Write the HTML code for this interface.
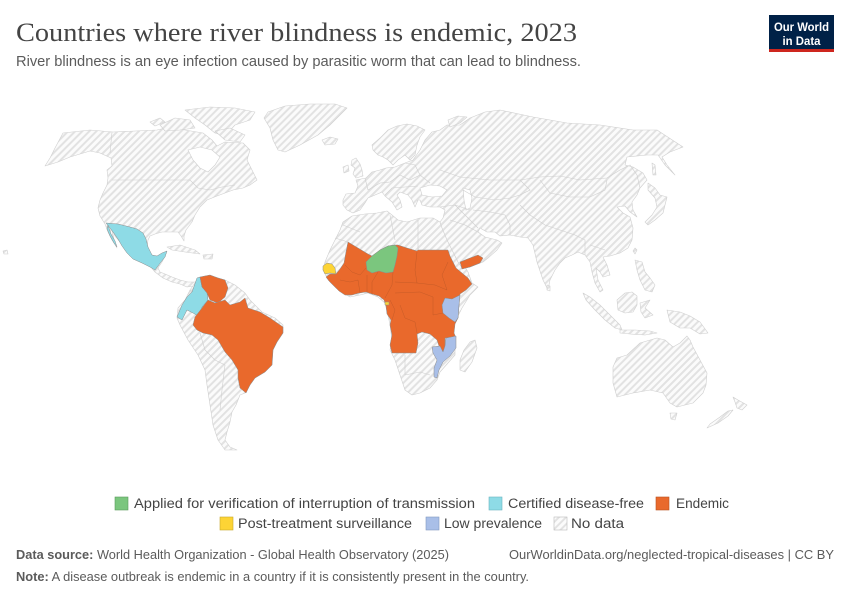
<!DOCTYPE html>
<html><head><meta charset="utf-8"><style>
html,body{margin:0;padding:0;background:#fff;}
svg{display:block;}
</style></head><body>
<svg width="850" height="600" viewBox="0 0 850 600" xmlns="http://www.w3.org/2000/svg">
<defs>
<pattern id="h" width="5" height="5" patternUnits="userSpaceOnUse" patternTransform="rotate(45)">
<rect width="5" height="5" fill="#fbfbfb"/>
<rect width="2" height="5" fill="#e2e2e2"/>
</pattern>
</defs>
<rect width="850" height="600" fill="#fff"/>

<!-- Title -->
<text x="16" y="41" font-family="Liberation Serif, serif" font-size="26" fill="#444" textLength="561" lengthAdjust="spacingAndGlyphs">Countries where river blindness is endemic, 2023</text>
<text x="16" y="66" font-family="Liberation Sans, sans-serif" font-size="14.5" fill="#5b5b5b" textLength="565" lengthAdjust="spacingAndGlyphs">River blindness is an eye infection caused by parasitic worm that can lead to blindness.</text>

<!-- Logo -->
<rect x="769" y="15" width="65" height="35" fill="#002147"/>
<rect x="769" y="49" width="65" height="3" fill="#ce261e"/>
<text x="801.5" y="31" text-anchor="middle" font-family="Liberation Sans, sans-serif" font-size="12" font-weight="bold" fill="#fff" textLength="55" lengthAdjust="spacingAndGlyphs">Our World</text>
<text x="801.5" y="45" text-anchor="middle" font-family="Liberation Sans, sans-serif" font-size="12" font-weight="bold" fill="#fff" textLength="38" lengthAdjust="spacingAndGlyphs">in Data</text>

<!-- MAP -->
<g fill="url(#h)" stroke="#cfcfcf" stroke-width="0.6" stroke-linejoin="round">
<!-- North America -->
<polygon points="45,166 50,158 55,148 63,133 90,130 113,132 135,131 157,130 170,127 185,130 203,133 212,140 217,146 225,142 243,143 250,150 247,160 253,172 257,180 250,185 243,188 233,190 225,193 217,196 207,200 200,207 195,215 192,222 186,230 184,236 184,241 181,236 178,232 170,232 162,232 155,234 150,236 148,240 147,247 152,256 158,262 162,258 166,252 165,256 162,262 158,268 160,272 165,274 172,277 180,280 188,282 196,282 194,286 187,287 180,284 172,282 163,278 155,272 150,266 140,262 130,256 125,250 120,242 115,236 112,230 115,244 117,248 112,240 108,232 105,224 100,216 98,208 100,200 103,193 107,185 108,178 107,170 112,166 111,158 100,153 90,151 80,154 70,157 58,162"/>
<!-- Arctic islands -->
<polygon points="160,125 175,118 190,120 195,128 180,130 165,131"/>
<polygon points="185,110 210,107 235,108 255,112 250,120 235,125 225,136 215,133 205,125 195,118"/>
<polygon points="215,131 230,128 245,135 240,142 225,140"/>
<polygon points="150,122 160,118 165,122 155,126"/>
<!-- Greenland -->
<polygon points="268,112 285,106 310,104 335,104 347,108 340,115 330,125 318,135 300,145 285,152 278,150 273,140 270,128 264,118"/>
<!-- Iceland -->
<polygon points="322,140 330,137 338,139 335,144 325,145"/>
<!-- Caribbean -->
<polygon points="167,247 180,245 195,250 200,254 185,252 172,250"/>
<polygon points="203,255 213,254 212,259 204,259"/>
<polygon points="3,251 7,250 8,254 4,254"/>
<!-- South America -->
<polygon points="195,283 200,278 205,276 215,277 225,280 235,285 245,293 250,300 262,312 275,318 283,325 283,333 277,342 273,350 272,365 265,372 255,378 250,385 245,393 240,395 236,405 232,412 230,422 227,432 225,440 230,447 237,450 225,450 218,440 213,425 210,405 207,385 205,370 198,355 188,340 180,325 177,318 178,308 185,300 190,290"/>
<!-- Africa -->
<polygon points="343,222 352,216 365,214 377,213 387,211 392,215 398,220 407,222 420,218 433,218 440,222 443,228 450,240 455,250 462,262 468,272 472,283 478,287 470,295 462,308 457,318 452,328 455,340 455,355 448,363 440,372 437,380 430,388 420,393 412,395 405,390 400,375 395,360 390,350 392,340 390,325 388,315 385,303 378,297 368,293 360,295 350,297 343,293 336,288 330,282 327,278 323,270 325,262 330,250 335,240 340,230"/>
<!-- Madagascar -->
<polygon points="470,342 475,340 477,348 472,362 465,372 460,370 460,360 464,350"/>
<!-- Eurasia -->
<polygon points="343,200 346,194 355,193 358,186 356,180 366,178 372,172 380,170 386,168 395,167 405,163 413,160 420,150 425,140 432,132 440,130 447,125 460,125 470,118 485,112 500,110 533,117 567,123 600,125 633,130 657,130 683,147 670,152 662,157 667,165 675,175 665,165 658,155 647,155 627,157 625,165 633,167 643,173 647,180 640,188 637,195 632,202 633,210 637,217 630,212 625,206 617,207 623,213 630,217 633,228 632,240 628,248 620,253 610,256 603,257 607,265 610,275 603,277 600,272 596,268 598,280 603,290 600,292 595,283 592,272 590,262 585,255 578,252 572,255 565,258 560,263 555,270 550,280 548,290 543,280 537,262 533,245 528,238 520,237 510,235 500,236 495,232 487,232 480,228 478,232 485,237 497,240 502,243 497,250 488,258 483,262 470,267 462,268 458,262 453,252 447,240 442,228 440,222 443,218 445,210 440,207 430,207 422,205 420,200 418,200 415,207 412,200 408,195 400,192 397,195 400,200 402,207 397,210 392,202 385,196 382,192 375,195 368,198 365,203 360,210 353,213 347,210 343,205"/>
<!-- Scandinavia -->
<polygon points="373,150 372,145 380,138 388,130 397,126 407,124 417,126 425,130 420,137 417,145 415,155 410,160 405,155 398,160 393,165 388,160 383,157 378,155"/>
<!-- Novaya Zemlya -->
<polygon points="448,120 458,116 467,117 460,123 450,127"/>
<!-- UK / Ireland -->
<polygon points="352,160 356,158 360,164 362,170 363,176 356,178 353,174 355,168 351,165"/>
<polygon points="343,167 348,165 349,171 344,173"/>
<!-- Japan, Sakhalin, Taiwan, Sri Lanka -->
<polygon points="648,183 655,188 660,195 667,197 665,205 663,213 655,220 648,225 645,222 652,215 657,207 655,198 648,190"/>
<polygon points="652,163 655,165 656,175 653,175"/>
<polygon points="635,248 637,250 635,254 633,251"/>
<polygon points="547,285 550,286 550,291 547,290"/>
<!-- SE Asia islands -->
<polygon points="635,260 642,262 645,272 650,278 655,285 652,292 645,290 640,280 637,270"/>
<polygon points="583,293 590,297 600,305 610,315 620,325 622,330 615,328 605,320 595,310 586,300"/>
<polygon points="620,330 635,330 650,331 657,333 645,335 630,334 620,333"/>
<polygon points="617,300 625,293 632,292 637,296 637,305 633,312 625,313 618,310"/>
<polygon points="640,303 650,300 645,308 653,315 645,318 641,312"/>
<polygon points="667,310 680,312 690,316 700,322 708,333 700,334 690,328 680,328 670,322"/>
<!-- Australia / NZ -->
<polygon points="613,367 617,358 627,355 640,343 657,338 665,340 673,347 680,343 687,336 690,340 693,347 700,360 707,373 706,385 703,393 693,403 677,407 670,403 663,393 650,390 633,393 617,397 613,383"/>
<polygon points="670,413 677,413 675,420 671,419"/>
<polygon points="733,397 738,400 747,405 742,410 737,408 735,402"/>
<polygon points="733,410 728,416 718,423 707,428 710,424 720,417 728,411"/>
</g>

<!-- Inland water -->
<g fill="#fff" stroke="#cfcfcf" stroke-width="0.6">
<polygon points="188,150 200,147 212,150 220,157 215,165 208,172 200,168 193,160"/>
<polygon points="420,188 430,185 440,186 447,190 442,196 432,197 422,195"/>
<polygon points="463,188 470,190 472,198 470,208 466,210 464,200"/>
</g>

<!-- Borders (no-data areas) -->
<g fill="none" stroke="#cfcfcf" stroke-width="0.6">
<polyline points="112,180 190,180 198,188 210,190 222,187 235,185"/>
<polyline points="112,132 110,153"/>
<polyline points="440,170 460,177 490,180 520,180 540,177 560,176 580,180 607,178 620,170 630,165 637,175 640,188"/>
<polyline points="540,180 550,193 570,197 590,197 605,190 607,180"/>
<polyline points="463,190 475,197 495,200 510,198 520,195 530,190 520,180"/>
<polyline points="473,210 490,212 505,215 510,225 510,235"/>
<polyline points="455,205 465,215 478,228"/>
<polyline points="520,205 530,215 545,225 560,230 575,235 585,240 585,255"/>
<polyline points="590,245 605,250"/>
<polyline points="440,207 455,205 470,210"/>
<polyline points="450,220 465,225 478,232"/>
<polyline points="365,178 368,190 380,183 390,182 400,175 410,180 420,175 415,165 405,163"/>
<polyline points="385,195 392,188 405,187 418,186"/>
<polyline points="420,175 430,183"/>
<polyline points="390,215 395,240"/>
<polyline points="418,220 418,250"/>
<polyline points="343,225 360,232"/>
<polyline points="335,238 348,242"/>
<polyline points="405,355 405,375"/>
<polyline points="405,375 420,372 430,375"/>
<polyline points="190,290 200,300 208,300"/>
<polyline points="200,333 205,350 215,360 225,365"/>
<polyline points="225,365 222,390 220,410"/>
</g>

<!-- Colored countries -->
<g stroke="#8c8c8c" stroke-width="0.5" stroke-linejoin="round">
<!-- Mexico -->
<polygon fill="#8edbe6" points="106,223 118,224 130,227 137,229 143,233 146,239 148,247 152,255 157,256 162,253 167,251 165,257 161,262 158,266 155,270 150,267 142,263 133,259 127,253 122,246 118,239 113,232 110,228"/>
<polygon fill="#8edbe6" points="108,225 111,234 115,241 117,247 114,243 110,236 107,229"/>
<!-- Colombia -->
<polygon fill="#8edbe6" points="177,317 182,305 187,297 192,292 197,278 200,277 202,287 207,293 208,300 202,307 200,317 193,313 187,310 182,320"/>
<!-- Venezuela -->
<polygon fill="#e9692c" points="200,277 210,275 218,278 225,280 228,288 225,297 218,303 210,300 207,293 202,287"/>
<!-- Brazil -->
<polygon fill="#e9692c" points="208,300 215,303 225,300 230,305 240,302 245,298 248,308 260,312 270,318 283,327 283,333 277,342 273,350 272,365 265,372 255,378 250,385 246,393 240,388 238,378 238,370 232,360 225,352 218,340 212,335 203,333 197,330 193,325 195,317 202,308"/>
<!-- Africa endemic block -->
<polygon fill="#e9692c" points="348,242 358,248 368,254 372,256 380,250 388,246 395,245 398,245 407,248 417,251 418,250 448,250 450,256 453,262 456,268 462,273 468,278 472,284 466,290 460,294 459,305 458,318 455,324 454,333 456,338 445,338 445,346 443,352 439,346 437,340 430,334 422,332 417,334 418,343 416,353 392,353 390,345 392,335 390,325 391,320 387,314 386,306 384,300 379,296 372,294 366,292 359,293 352,295 345,295 339,291 334,286 329,281 326,277 330,274 336,274 340,269 344,263 346,252"/>
<!-- Yemen -->
<polygon fill="#e9692c" points="460,262 470,258 478,255 483,258 480,263 470,267 462,269"/>
<!-- Niger -->
<polygon fill="#7bc67e" points="366,262 372,256 380,250 388,246 395,245 398,248 397,256 395,265 393,272 386,273 379,271 372,273 367,270"/>
<!-- Senegal -->
<polygon fill="#fdd435" points="323,266 327,263 332,264 335,268 336,274 330,273 325,274 323,270"/>
<!-- Eq Guinea -->
<rect x="385" y="302" width="4" height="3" fill="#fdd435"/>
<!-- Kenya -->
<polygon fill="#a9bfe8" points="445,298 452,299 460,295 459,305 458,318 455,322 449,318 443,313 442,305"/>
<!-- Mozambique -->
<polygon fill="#a9bfe8" points="446,338 456,336 456,348 450,356 443,362 439,370 437,378 434,377 434,368 437,360 433,353 432,347 440,346 443,352 445,346"/>
</g>
<!-- internal borders of endemic block -->
<g fill="none" stroke="#9b4a22" stroke-opacity="0.45" stroke-width="0.5">
<polyline points="345,265 352,272 360,275 366,268"/>
<polyline points="340,280 350,282 358,280"/>
<polyline points="358,280 360,293"/>
<polyline points="367,275 367,292"/>
<polyline points="378,272 372,282 372,294"/>
<polyline points="393,272 392,285 385,298"/>
<polyline points="417,252 415,270 417,283"/>
<polyline points="395,282 417,283"/>
<polyline points="395,293 420,292 433,297"/>
<polyline points="417,283 435,285 447,290"/>
<polyline points="448,262 442,275 447,290"/>
<polyline points="400,305 405,318 415,322 417,333"/>
<polyline points="433,297 433,315 443,313"/>
<polyline points="390,300 395,310 392,320"/>
</g>

<!-- Legend -->
<g font-family="Liberation Sans, sans-serif" font-size="13.5" fill="#444">
<rect x="115" y="497" width="13" height="13" fill="#7bc67e" stroke="#5a9c5c" stroke-width="0.6"/>
<text x="134" y="508" textLength="341" lengthAdjust="spacingAndGlyphs">Applied for verification of interruption of transmission</text>
<rect x="489" y="497" width="13" height="13" fill="#8edbe6" stroke="#6ab4bf" stroke-width="0.6"/>
<text x="508" y="508" textLength="136" lengthAdjust="spacingAndGlyphs">Certified disease-free</text>
<rect x="656" y="497" width="13" height="13" fill="#e9692c" stroke="#b9521f" stroke-width="0.6"/>
<text x="676" y="508" textLength="53" lengthAdjust="spacingAndGlyphs">Endemic</text>

<rect x="220" y="517" width="13" height="13" fill="#fdd435" stroke="#c9a82a" stroke-width="0.6"/>
<text x="238" y="528" textLength="174" lengthAdjust="spacingAndGlyphs">Post-treatment surveillance</text>
<rect x="426" y="517" width="13" height="13" fill="#a9bfe8" stroke="#8299c2" stroke-width="0.6"/>
<text x="444" y="528" textLength="98" lengthAdjust="spacingAndGlyphs">Low prevalence</text>
<rect x="554" y="517" width="13" height="13" fill="url(#h)" stroke="#bbb" stroke-width="0.6"/>
<text x="571" y="528" textLength="53" lengthAdjust="spacingAndGlyphs">No data</text>
</g>

<!-- Footer -->
<g font-family="Liberation Sans, sans-serif" font-size="12.5" fill="#5b5b5b">
<text x="16" y="559" textLength="433" lengthAdjust="spacingAndGlyphs"><tspan font-weight="bold">Data source:</tspan> World Health Organization - Global Health Observatory (2025)</text>
<text x="834" y="559" text-anchor="end" textLength="325" lengthAdjust="spacingAndGlyphs">OurWorldinData.org/neglected-tropical-diseases | CC BY</text>
<text x="16" y="581" textLength="513" lengthAdjust="spacingAndGlyphs"><tspan font-weight="bold">Note:</tspan> A disease outbreak is endemic in a country if it is consistently present in the country.</text>
</g>
</svg>
</body></html>
